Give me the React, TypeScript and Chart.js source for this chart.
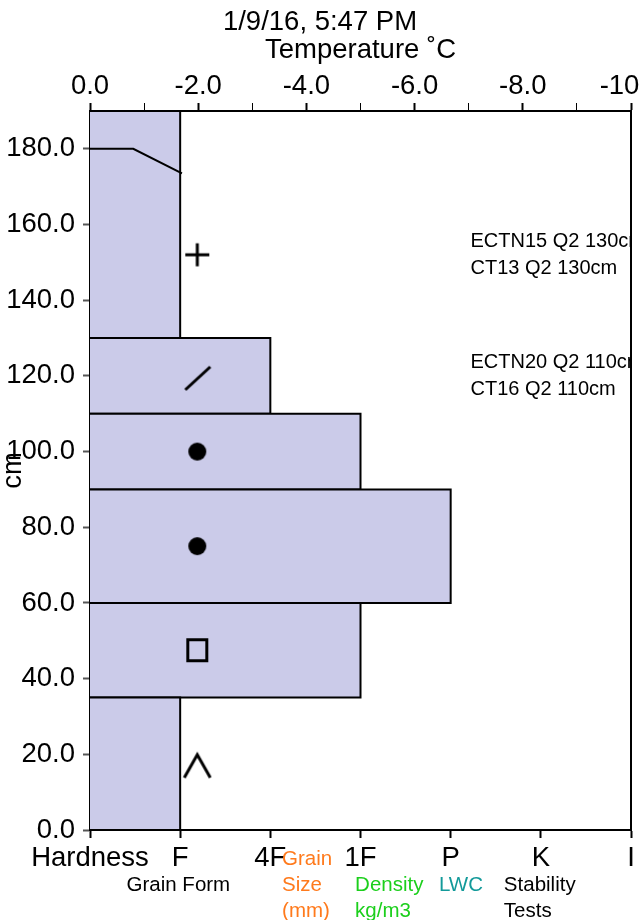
import React, { useEffect, useRef } from 'react';
import { Chart, registerables } from 'chart.js';

Chart.register(...registerables);

const FONT = 'Liberation Sans';
const TITLE = '1/9/16, 5:47 PM';
const TEMP_TITLE = 'Temperature ˚C';
const DEPTH_TITLE = 'cm';

const hardnessLabels = ['Hardness', 'F', '4F', '1F', 'P', 'K', 'I'];

// snow layers (cm) and hand hardness index (F=1 ... I=6)
const layerBottoms = [0, 35, 60, 90, 110, 130];
const layerTops = [35, 60, 90, 110, 130, 190];
const layerHardness = [1, 3, 4, 3, 2, 1];

// temperature profile
const tempDepths = [180, 180, 173.5];
const tempValues = [0, -0.8, -1.7];

// grain forms
const grainDepths = [17, 47.5, 75, 100, 119.5, 152];
const grainForms = ['DH', 'FC', 'RG', 'RG', 'DF', 'PP'];
const grainFormHardness = 1.19;

// stability tests
const stabilityTests = ['ECTN15 Q2 130cm', 'CT13 Q2 130cm', 'ECTN20 Q2 110cm', 'CT16 Q2 110cm'];
const stabilityDepths = [155.5, 148.5, 123.5, 116.5];
const stabilityHardness = 4.22;

// column headings under the hardness axis
const columnHeads = [['Grain Form'], ['Grain', 'Size', '(mm)'], ['Density', 'kg/m3'], ['LWC'], ['Stability', 'Tests']];
const columnColors = ['#000000', '#ff7a1c', '#1ccf1c', '#139a9a', '#000000'];
const columnHardness = [0.98, 2.13, 2.94, 3.87, 4.59];
const columnAlign = ['center', 'left', 'left', 'left', 'left'];
const columnFirstRow = [1, 0, 1, 1, 1];

const LAYER_FILL = '#cbcbe9';
const BIG = 27.5;

function makeSymbol(code: string): HTMLCanvasElement {
  const c = document.createElement('canvas');
  c.width = 30;
  c.height = 30;
  const g = c.getContext('2d')!;
  g.strokeStyle = '#000';
  g.fillStyle = '#000';
  g.lineWidth = 3;
  g.beginPath();
  if (code === 'PP') {
    g.moveTo(3, 15); g.lineTo(27, 15);
    g.moveTo(15, 3.5); g.lineTo(15, 26.5);
    g.stroke();
  } else if (code === 'DF') {
    g.moveTo(3, 27); g.lineTo(28, 4);
    g.stroke();
  } else if (code === 'RG') {
    g.arc(15, 15, 9, 0, Math.PI * 2);
    g.fill();
  } else if (code === 'FC') {
    g.strokeRect(5.5, 4.5, 19, 21);
  } else if (code === 'DH') {
    g.moveTo(2, 27); g.lineTo(15, 4); g.lineTo(28, 27);
    g.stroke();
  }
  return c;
}

const textPlugin = {
  id: 'profileText',
  afterDatasetsDraw(chart: any) {
    const { ctx, chartArea, scales } = chart;
    const x = scales.x;
    const y = scales.y;
    ctx.save();
    ctx.beginPath();
    ctx.rect(chartArea.left, chartArea.top, chartArea.right - chartArea.left, chartArea.bottom - chartArea.top);
    ctx.clip();
    ctx.font = `20px "${FONT}"`;
    ctx.fillStyle = '#000';
    ctx.textAlign = 'left';
    ctx.textBaseline = 'middle';
    stabilityTests.forEach((t, i) => {
      ctx.fillText(t, x.getPixelForValue(stabilityHardness), y.getPixelForValue(stabilityDepths[i]));
    });
    ctx.restore();
  },
  afterDraw(chart: any) {
    const { ctx, chartArea, scales } = chart;
    const x = scales.x;
    ctx.save();
    ctx.font = `20.5px "${FONT}"`;
    ctx.textBaseline = 'middle';
    columnHeads.forEach((lines, i) => {
      ctx.fillStyle = columnColors[i];
      ctx.textAlign = columnAlign[i] as CanvasTextAlign;
      lines.forEach((line, j) => {
        const row = columnFirstRow[i] + j;
        ctx.fillText(line, x.getPixelForValue(columnHardness[i]), chartArea.bottom + 29 + row * 26);
      });
    });
    ctx.restore();
  },
};

export default function App() {
  const ref = useRef<HTMLCanvasElement | null>(null);

  useEffect(() => {
    if (!ref.current) return;
    const layerSets = layerBottoms.map((b, i) => ({
      label: 'layer' + i,
      data: [
        { x: 0, y: b },
        { x: layerHardness[i], y: b },
        { x: layerHardness[i], y: layerTops[i] },
        { x: 0, y: layerTops[i] },
      ],
      xAxisID: 'x',
      yAxisID: 'y',
      borderColor: '#000',
      borderWidth: 2,
      backgroundColor: LAYER_FILL,
      fill: 'origin',
      pointRadius: 0,
      tension: 0,
      order: 10 + i,
    }));
    const tempSet = {
      label: 'temperature',
      data: tempValues.map((t, i) => ({ x: t, y: tempDepths[i] })),
      xAxisID: 'xT',
      yAxisID: 'y',
      borderColor: '#000',
      borderWidth: 2,
      fill: false,
      pointRadius: 0,
      tension: 0,
      order: 2,
    };
    const symbols = grainForms.map(makeSymbol);
    const grainSet = {
      label: 'grain',
      data: grainDepths.map((d) => ({ x: grainFormHardness, y: d })),
      xAxisID: 'x',
      yAxisID: 'y',
      showLine: false,
      pointStyle: symbols,
      pointRadius: 10,
      fill: false,
      order: 1,
    };

    const tickFont = { family: FONT, size: BIG };
    const noHPad = (s: any) => { s.paddingLeft = 0; s.paddingRight = 0; };
    const noVPad = (s: any) => { s.paddingTop = 0; s.paddingBottom = 0; };

    const chart = new Chart(ref.current, {
      type: 'line',
      data: { datasets: [...layerSets, tempSet, grainSet] as any },
      plugins: [textPlugin],
      options: {
        responsive: false,
        animation: false,
        events: [],
        indexAxis: 'y',
        layout: { padding: 0, autoPadding: false },
        plugins: {
          legend: { display: false },
          tooltip: { enabled: false },
          title: {
            display: true,
            text: TITLE,
            color: '#000',
            font: { family: FONT, size: BIG, weight: 'normal', lineHeight: 1 },
            padding: { top: 9, bottom: 0 },
          },
        },
        scales: {
          x: {
            type: 'linear',
            position: 'bottom',
            min: 0,
            max: 6,
            afterFit: (s: any) => { s.height = 90; noHPad(s); },
            ticks: {
              stepSize: 1,
              autoSkip: false,
              maxRotation: 0,
              color: '#000',
              font: tickFont,
              padding: 4,
              callback: (v: any) => hardnessLabels[Math.round(Number(v))] ?? '',
            },
            grid: { drawOnChartArea: false, drawTicks: true, tickLength: 8, color: '#000', tickWidth: 2 },
            border: { display: true, color: '#000', width: 2 },
          },
          xT: {
            type: 'linear',
            position: 'top',
            min: -10,
            max: 0,
            reverse: true,
            afterFit: (s: any) => {
              const tb = s.chart.titleBlock;
              s.height = 111 - (tb ? tb.height : 37);
              noHPad(s);
            },
            title: {
              display: true,
              text: TEMP_TITLE,
              color: '#000',
              font: { family: FONT, size: BIG, lineHeight: 1 },
              padding: { top: 0, bottom: 0 },
            },
            ticks: {
              stepSize: 1,
              autoSkip: false,
              maxRotation: 0,
              color: '#000',
              font: tickFont,
              padding: 0,
              callback: (v: any) => (Math.round(Number(v)) % 2 === 0 ? Number(v).toFixed(1) : ''),
            },
            grid: {
              drawOnChartArea: false,
              drawTicks: true,
              tickLength: 8,
              color: '#000',
              tickWidth: (c: any) => (c.tick && Math.round(c.tick.value) % 2 === 0 ? 2 : 1),
            },
            border: { display: true, color: '#000', width: 2 },
          },
          y: {
            type: 'linear',
            position: 'left',
            min: 0,
            max: 190,
            afterFit: (s: any) => { s.width = 90; noVPad(s); },
            afterBuildTicks: (s: any) => { s.ticks = s.ticks.filter((t: any) => t.value % 20 === 0); },
            title: {
              display: true,
              text: DEPTH_TITLE,
              color: '#000',
              font: { family: FONT, size: BIG, lineHeight: 1 },
              padding: 0,
            },
            ticks: {
              stepSize: 20,
              color: '#000',
              font: tickFont,
              padding: 8,
              callback: (v: any) => Number(v).toFixed(1),
            },
            grid: { drawOnChartArea: false, drawTicks: true, tickLength: 7, color: '#555', tickWidth: 2 },
            border: { display: true, color: '#000', width: 2 },
          },
          yR: {
            type: 'linear',
            position: 'right',
            min: 0,
            max: 190,
            afterFit: (s: any) => { s.width = 9; noVPad(s); },
            ticks: { display: false },
            grid: { drawOnChartArea: false, drawTicks: false },
            border: { display: true, color: '#000', width: 2 },
          },
        },
      } as any,
    });
    return () => chart.destroy();
  }, []);

  return (
    <div style={{ position: 'absolute', left: 0, top: 0, width: 640, height: 920, background: '#fff' }}>
      <canvas ref={ref} width={640} height={920} style={{ display: 'block' }} />
    </div>
  );
}
